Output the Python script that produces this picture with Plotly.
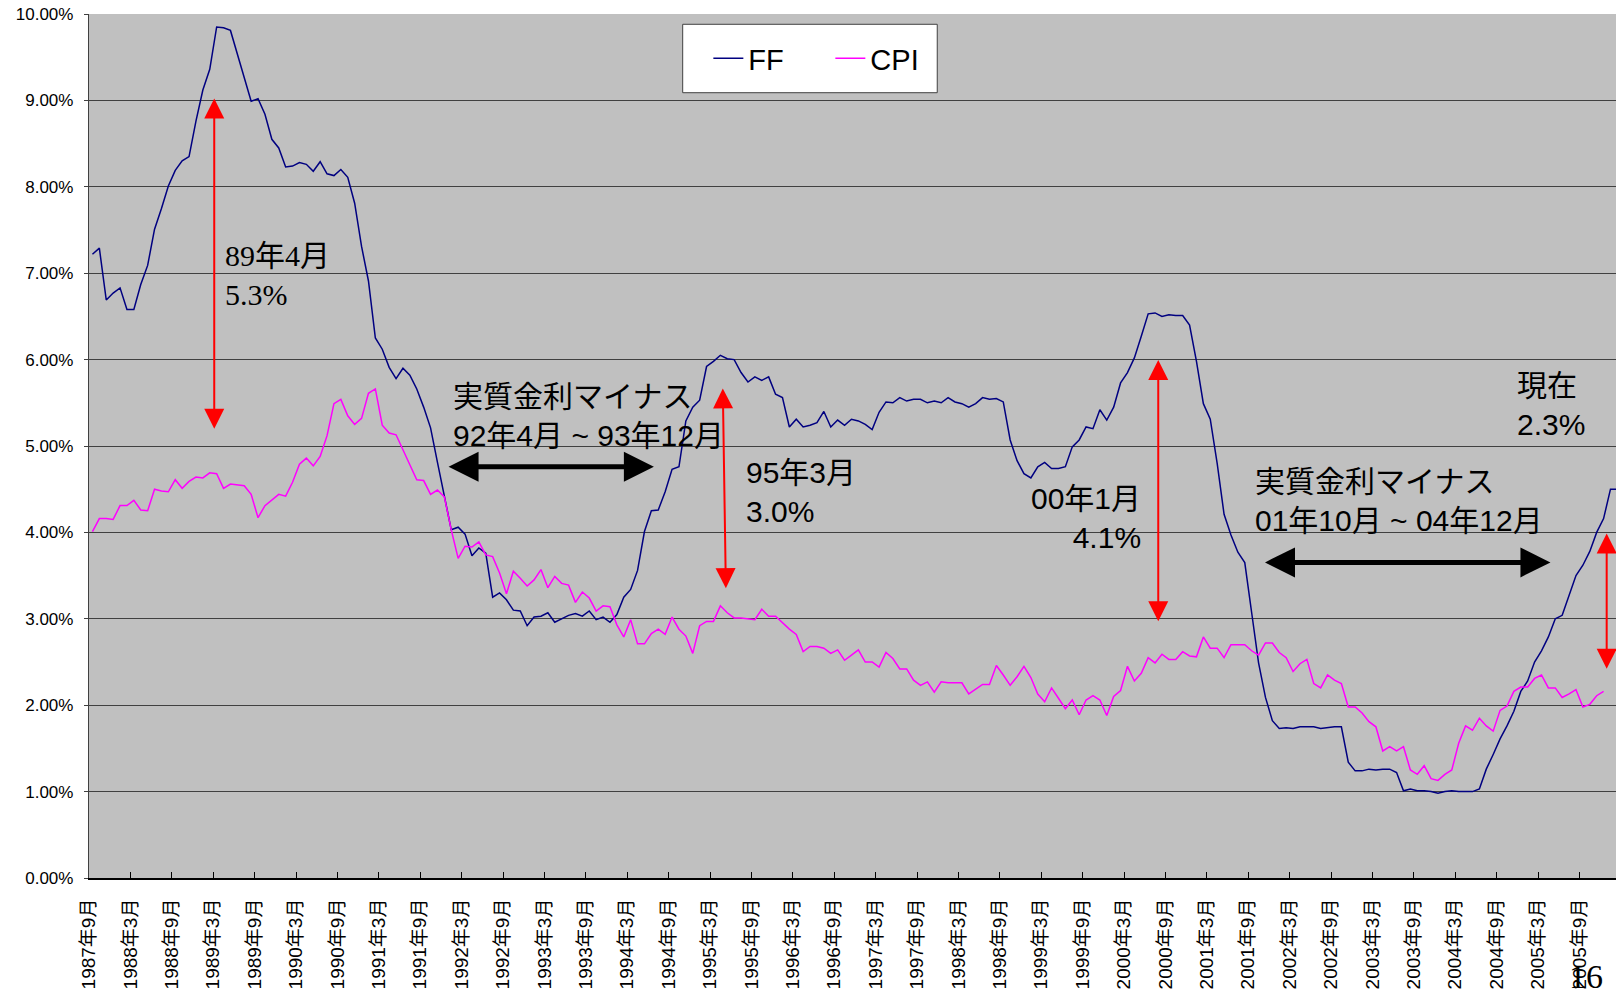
import plotly.graph_objects as go

# monthly series, first value = 1987年9月
ff = [
    7.22, 7.29, 6.69, 6.77,                                                  # 1987
    6.83, 6.58, 6.58, 6.87, 7.09, 7.51, 7.75, 8.01, 8.19, 8.30, 8.35, 8.76,  # 1988
    9.12, 9.36, 9.85, 9.84, 9.81, 9.53, 9.24, 8.99, 9.02, 8.84, 8.55, 8.45,  # 1989
    8.23, 8.24, 8.28, 8.26, 8.18, 8.29, 8.15, 8.13, 8.20, 8.11, 7.81, 7.31,  # 1990
    6.91, 6.25, 6.12, 5.91, 5.78, 5.90, 5.82, 5.66, 5.45, 5.21, 4.81, 4.43,  # 1991
    4.03, 4.06, 3.98, 3.73, 3.82, 3.76, 3.25, 3.30, 3.22, 3.10, 3.09, 2.92,  # 1992
    3.02, 3.03, 3.07, 2.96, 3.00, 3.04, 3.06, 3.03, 3.09, 2.99, 3.02, 2.96,  # 1993
    3.05, 3.25, 3.34, 3.56, 4.01, 4.25, 4.26, 4.47, 4.73, 4.76, 5.29, 5.45,  # 1994
    5.53, 5.92, 5.98, 6.05, 6.01, 6.00, 5.85, 5.74, 5.80, 5.76, 5.80, 5.60,  # 1995
    5.56, 5.22, 5.31, 5.22, 5.24, 5.27, 5.40, 5.22, 5.30, 5.24, 5.31, 5.29,  # 1996
    5.25, 5.19, 5.39, 5.51, 5.50, 5.56, 5.52, 5.54, 5.54, 5.50, 5.52, 5.50,  # 1997
    5.56, 5.51, 5.49, 5.45, 5.49, 5.56, 5.54, 5.55, 5.51, 5.07, 4.83, 4.68,  # 1998
    4.63, 4.76, 4.81, 4.74, 4.74, 4.76, 4.99, 5.07, 5.22, 5.20, 5.42, 5.30,  # 1999
    5.45, 5.73, 5.85, 6.02, 6.27, 6.53, 6.54, 6.50, 6.52, 6.51, 6.51, 6.40,  # 2000
    5.98, 5.49, 5.31, 4.80, 4.21, 3.97, 3.77, 3.65, 3.07, 2.49, 2.09, 1.82,  # 2001
    1.73, 1.74, 1.73, 1.75, 1.75, 1.75, 1.73, 1.74, 1.75, 1.75, 1.34, 1.24,  # 2002
    1.24, 1.26, 1.25, 1.26, 1.26, 1.22, 1.01, 1.03, 1.01, 1.01, 1.00, 0.98,  # 2003
    1.00, 1.01, 1.00, 1.00, 1.00, 1.03, 1.26, 1.43, 1.61, 1.76, 1.93, 2.16,  # 2004
    2.28, 2.50, 2.63, 2.79, 3.00, 3.04, 3.26, 3.50, 3.62, 3.78, 4.00, 4.16,  # 2005
    4.50, 4.50,                                                              # 2006
]

cpi = [
    4.01, 4.16, 4.16, 4.15,                                                  # 1987
    4.31, 4.31, 4.37, 4.26, 4.25, 4.50, 4.48, 4.47, 4.61, 4.51, 4.59, 4.64,  # 1988
    4.63, 4.69, 4.68, 4.51, 4.56, 4.55, 4.54, 4.44, 4.17, 4.31, 4.38, 4.44,  # 1989
    4.42, 4.58, 4.79, 4.86, 4.77, 4.88, 5.12, 5.49, 5.54, 5.35, 5.25, 5.32,  # 1990
    5.61, 5.66, 5.24, 5.15, 5.13, 4.95, 4.77, 4.61, 4.60, 4.44, 4.49, 4.41,  # 1991
    4.03, 3.70, 3.84, 3.83, 3.89, 3.74, 3.72, 3.53, 3.29, 3.55, 3.47, 3.38,  # 1992
    3.45, 3.57, 3.36, 3.49, 3.41, 3.39, 3.19, 3.31, 3.24, 3.09, 3.15, 3.14,  # 1993
    2.93, 2.79, 2.99, 2.71, 2.71, 2.83, 2.88, 2.82, 3.02, 2.88, 2.80, 2.60,  # 1994
    2.92, 2.97, 2.97, 3.15, 3.07, 3.01, 3.01, 3.00, 2.99, 3.11, 3.03, 3.03,  # 1995
    2.95, 2.88, 2.82, 2.62, 2.68, 2.68, 2.66, 2.60, 2.64, 2.52, 2.58, 2.64,  # 1996
    2.50, 2.50, 2.44, 2.61, 2.54, 2.42, 2.42, 2.29, 2.23, 2.27, 2.15, 2.27,  # 1997
    2.26, 2.26, 2.26, 2.13, 2.18, 2.24, 2.24, 2.46, 2.35, 2.23, 2.33, 2.45,  # 1998
    2.32, 2.13, 2.04, 2.20, 2.08, 1.96, 2.06, 1.89, 2.06, 2.11, 2.06, 1.88,  # 1999
    2.10, 2.17, 2.45, 2.28, 2.37, 2.55, 2.49, 2.59, 2.53, 2.53, 2.62, 2.57,  # 2000
    2.56, 2.79, 2.66, 2.66, 2.55, 2.70, 2.70, 2.70, 2.63, 2.58, 2.72, 2.72,  # 2001
    2.61, 2.55, 2.39, 2.48, 2.53, 2.25, 2.20, 2.35, 2.29, 2.25, 1.98, 1.98,  # 2002
    1.91, 1.81, 1.75, 1.47, 1.52, 1.47, 1.52, 1.25, 1.20, 1.30, 1.15, 1.13,  # 2003
    1.20, 1.25, 1.56, 1.76, 1.71, 1.85, 1.76, 1.70, 1.94, 1.99, 2.16, 2.21,  # 2004
    2.21, 2.31, 2.35, 2.20, 2.20, 2.09, 2.13, 2.18, 1.98, 2.01, 2.11, 2.16,  # 2005
]

tick_labels = [
    "1987年9月", "1988年3月", "1988年9月", "1989年3月", "1989年9月",
    "1990年3月", "1990年9月", "1991年3月", "1991年9月", "1992年3月",
    "1992年9月", "1993年3月", "1993年9月", "1994年3月", "1994年9月",
    "1995年3月", "1995年9月", "1996年3月", "1996年9月", "1997年3月",
    "1997年9月", "1998年3月", "1998年9月", "1999年3月", "1999年9月",
    "2000年3月", "2000年9月", "2001年3月", "2001年9月", "2002年3月",
    "2002年9月", "2003年3月", "2003年9月", "2004年3月", "2004年9月",
    "2005年3月", "2005年9月",
]

SANS = "Liberation Sans, Arial, Noto Sans CJK JP, sans-serif"
SERIF = "Liberation Serif, Times New Roman, Noto Sans CJK JP, serif"

fig = go.Figure()
fig.add_trace(go.Scatter(
    x=list(range(len(ff))), y=ff, name="FF", mode="lines",
    line={"color": "#000080", "width": 1.5},
))
fig.add_trace(go.Scatter(
    x=list(range(len(cpi))), y=cpi, name="CPI", mode="lines",
    line={"color": "#FF00FF", "width": 1.5},
))

# arrows: (tail x, tail y, head x, head y, colour, width, size)
arrows = [
    (17.65, 9.04, 17.65, 5.20, "#FF0000", 2, 2),
    (91.35, 5.684, 91.80, 3.355, "#FF0000", 2, 2),
    (154.46, 6.014, 154.46, 2.972, "#FF0000", 2, 2),
    (219.45, 4.006, 219.45, 2.421, "#FF0000", 2, 2),
    (51.39, 4.761, 81.36, 4.761, "#000000", 5, 1.2),
    (169.71, 3.653, 211.3, 3.653, "#000000", 5, 1.2),
]
annotations = []
for ax_, ay_, x_, y_, col, w, s in arrows:
    annotations.append(dict(
        x=x_, y=y_, ax=ax_, ay=ay_, xref="x", yref="y", axref="x", ayref="y",
        text="", showarrow=True, arrowhead=2, startarrowhead=2,
        arrowside="end+start", arrowcolor=col, arrowwidth=w,
        arrowsize=s, startarrowsize=s, standoff=0, startstandoff=0,
    ))

# text blocks: (text, x, y, xanchor, align, font)
texts = [
    ("89年4月<br>5.3%", 18.87, 6.985, "left", "left", SERIF),
    ("実質金利マイナス<br>92年4月 ~ 93年12月", 51.9, 5.35, "left", "left", SANS),
    ("95年3月<br>3.0%", 94.46, 4.47, "left", "left", SANS),
    ("00年1月<br>4.1%", 152.25, 4.17, "right", "right", SANS),
    ("実質金利マイナス<br>01年10月 ~ 04年12月", 168.2, 4.36, "left", "left", SANS),
    ("現在<br>2.3%", 206.2, 5.47, "left", "left", SANS),
]
for t, x_, y_, xa, al, fam in texts:
    annotations.append(dict(
        x=x_, y=y_, xref="x", yref="y", text=t, showarrow=False,
        xanchor=xa, yanchor="middle", align=al,
        font={"family": fam, "size": 30, "color": "#000000"},
    ))

# page number
annotations.append(dict(
    x=216.4, y=-0.1377, xref="x", yref="paper", text="16", showarrow=False,
    xanchor="center", yanchor="bottom",
    font={"family": SERIF, "size": 34, "color": "#000000"},
))

fig.update_layout(
    width=1616,
    height=998,
    margin={"l": 89, "r": 0, "t": 14, "b": 120},
    paper_bgcolor="#FFFFFF",
    plot_bgcolor="#C0C0C0",
    font={"family": SANS, "color": "#000000"},
    showlegend=True,
    legend=dict(
        orientation="h", x=0.4056, xanchor="left", y=0.9485, yanchor="middle",
        bgcolor="rgba(0,0,0,0)", borderwidth=0,
        font={"family": SANS, "size": 29, "color": "#000000"},
        entrywidth=77, entrywidthmode="pixels",
    ),
    shapes=[dict(
        type="rect", xref="paper", yref="paper",
        x0=0.3888, x1=0.5555, y0=0.9089, y1=0.9881,
        fillcolor="#FFFFFF", line={"color": "#404040", "width": 1}, layer="above",
    )],
    annotations=annotations,
    xaxis=dict(
        range=[-0.5, 220.8],
        tickmode="array",
        tickvals=[i * 6 - 0.5 for i in range(len(tick_labels))],
        ticktext=tick_labels,
        tickangle=-90,
        ticks="inside", ticklen=6, tickcolor="#000000", tickwidth=1,
        ticklabelstandoff=11,
        tickfont={"family": SANS, "size": 19, "color": "#000000"},
        showgrid=False, zeroline=False,
        showline=True, linecolor="#000000", linewidth=2,
    ),
    yaxis=dict(
        range=[0, 10],
        tick0=0, dtick=1,
        tickformat=".2f", ticksuffix="%",
        ticks="outside", ticklen=4, tickcolor="#404040",
        ticklabelstandoff=7,
        tickfont={"family": SANS, "size": 17, "color": "#000000"},
        showgrid=True, gridcolor="#404040", gridwidth=1.3,
        zeroline=False,
        showline=True, linecolor="#404040", linewidth=1.3,
    ),
)

# the page has a default body margin; drop it so the chart sits at 0,0
fig.write_html(
    "out.html",
    config={"displayModeBar": False},
    post_script="document.body.style.margin='0';",
)
